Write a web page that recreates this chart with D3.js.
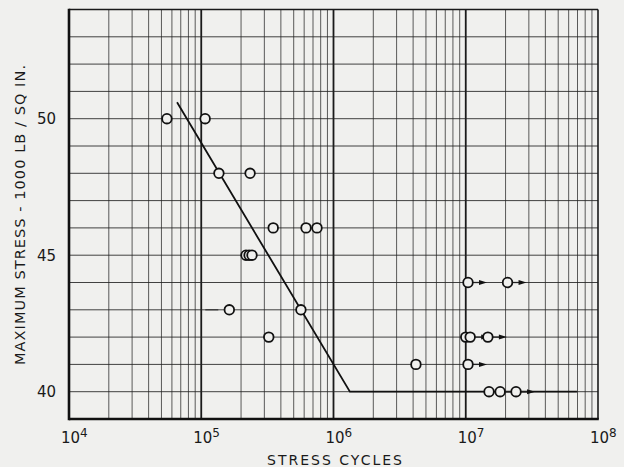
<!DOCTYPE html>
<html>
<head>
<meta charset="utf-8">
<script src="https://cdn.jsdelivr.net/npm/d3@7"></script>
<style>
  html, body { margin: 0; padding: 0; background: #f0f0ee; }
  text { font-family: "DejaVu Sans", sans-serif; fill: #1a1a1a; }
</style>
</head>
<body>
<svg id="chart"></svg>
<script>
var width = 624,
    height = 467;
var margin = {top: 9.5, right: 26, bottom: 48, left: 69};

// test points: cycles, stress, marker ("right" = runout arrow, "left" = lead dash)
var cycles = [5.5e4, 1.07e5, 1.36e5, 2.34e5, 2.18e5, 2.3e5, 2.42e5, 3.5e5, 6.2e5, 7.5e5,
              1.63e5, 5.67e5, 3.24e5, 4.2e6, 1.04e7, 1.04e7, 2.07e7, 1.0e7, 1.08e7, 1.47e7,
              1.5e7, 1.82e7, 2.4e7];
var stress = [50, 50, 48, 48, 45, 45, 45, 46, 46, 46,
              43, 43, 42, 41, 41, 44, 44, 42, 42, 42,
              40, 40, 40];
var marker = ["", "", "", "", "", "", "", "", "", "",
              "left", "", "", "", "right", "right", "right", "", "right", "right",
              "", "right", "right"];

// fitted S-N curve
var fitCycles = [6.56e4, 1.33e6, 6.93e7];
var fitStress = [50.6, 40, 40];

var xTicks = [4, 5, 6, 7, 8];
var yTicks = [40, 45, 50];

var x = d3.scaleLog()
    .domain([1e4, 1e8])
    .range([margin.left, width - margin.right]);
var y = d3.scaleLinear()
    .domain([39, 54])
    .range([height - margin.bottom, margin.top]);

var svg = d3.select('#chart')
    .attr('width', width)
    .attr('height', height);

// vertical log grid
var vGrid = [];
for (var e = 4; e < 8; e++) {
  for (var m = 2; m <= 9; m++) vGrid.push({v: m * Math.pow(10, e), major: false});
}
[1e5, 1e6, 1e7].forEach(function(v) { vGrid.push({v: v, major: true}); });

svg.append('g').selectAll('line')
    .data(vGrid)
    .enter().append('line')
    .attr('x1', d => x(d.v)).attr('x2', d => x(d.v))
    .attr('y1', y(54)).attr('y2', y(39))
    .attr('stroke', d => d.major ? '#1a1a1a' : '#333')
    .attr('stroke-opacity', d => d.major ? 1 : 0.8)
    .attr('stroke-width', d => d.major ? 1.8 : 1);

// horizontal grid
svg.append('g').selectAll('line')
    .data(d3.range(40, 54))
    .enter().append('line')
    .attr('x1', x(1e4)).attr('x2', x(1e8))
    .attr('y1', d => y(d)).attr('y2', d => y(d))
    .attr('stroke', '#222')
    .attr('stroke-opacity', 0.85)
    .attr('stroke-width', 1);

// frame
svg.append('line').attr('x1', x(1e4)).attr('x2', x(1e8)).attr('y1', y(54)).attr('y2', y(54))
    .attr('stroke', '#1a1a1a').attr('stroke-width', 1.6);
svg.append('line').attr('x1', x(1e8)).attr('x2', x(1e8)).attr('y1', y(54)).attr('y2', y(39))
    .attr('stroke', '#1a1a1a').attr('stroke-width', 1.6);
svg.append('line').attr('x1', x(1e4)).attr('x2', x(1e4)).attr('y1', y(54) - 0.8).attr('y2', y(39) + 1.2)
    .attr('stroke', '#111').attr('stroke-width', 2.6);
svg.append('line').attr('x1', x(1e4)).attr('x2', x(1e8) + 0.8).attr('y1', y(39)).attr('y2', y(39))
    .attr('stroke', '#111').attr('stroke-width', 2.6);

// fit line
var line = d3.line()
    .x((d, i) => x(fitCycles[i]))
    .y((d, i) => y(fitStress[i]));
svg.append('path')
    .datum(fitCycles)
    .attr('d', line)
    .attr('fill', 'none')
    .attr('stroke', '#111')
    .attr('stroke-width', 1.8);

var pts = cycles.map((c, i) => ({c: c, s: stress[i], m: marker[i]}));

// runout arrows
var arrows = svg.append('g').selectAll('g')
    .data(pts.filter(d => d.m === 'right'))
    .enter().append('g');
arrows.append('line')
    .attr('x1', d => x(d.c) + 5).attr('x2', d => x(d.c) + 13)
    .attr('y1', d => y(d.s)).attr('y2', d => y(d.s))
    .attr('stroke', '#222').attr('stroke-width', 1.3);
arrows.append('path')
    .attr('d', d => 'M' + (x(d.c) + 11) + ',' + (y(d.s) - 2.5) + 'L' + (x(d.c) + 19) + ',' + y(d.s) +
                    'L' + (x(d.c) + 11) + ',' + (y(d.s) + 2.5) + 'Z')
    .attr('fill', '#111');

// lead dash
svg.append('g').selectAll('line')
    .data(pts.filter(d => d.m === 'left'))
    .enter().append('line')
    .attr('x1', d => x(d.c) - 24).attr('x2', d => x(d.c) - 11)
    .attr('y1', d => y(d.s)).attr('y2', d => y(d.s))
    .attr('stroke', '#333').attr('stroke-width', 1.2);

// points
svg.append('g').selectAll('circle')
    .data(pts)
    .enter().append('circle')
    .attr('cx', d => x(d.c))
    .attr('cy', d => y(d.s))
    .attr('r', 4.8)
    .attr('fill', '#f0f0ee')
    .attr('stroke', '#111')
    .attr('stroke-width', 1.8);

// y tick labels
svg.append('g').selectAll('text')
    .data(yTicks)
    .enter().append('text')
    .attr('x', 56)
    .attr('y', d => y(d) + 5.5)
    .attr('text-anchor', 'end')
    .style('font-size', '15px')
    .text(d => d);

// x tick labels
var xl = svg.append('g').selectAll('text')
    .data(xTicks)
    .enter().append('text')
    .attr('x', d => x(Math.pow(10, d)) - 8)
    .attr('y', 443)
    .style('font-size', '15px');
xl.append('tspan').text('10');
xl.append('tspan').attr('dy', -6).style('font-size', '12px').text(d => d);

// axis titles
svg.append('text')
    .attr('x', 267)
    .attr('y', 465)
    .attr('textLength', 135)
    .attr('lengthAdjust', 'spacing')
    .style('font-size', '14px')
    .text('STRESS CYCLES');

svg.append('text')
    .attr('transform', 'translate(25,365) rotate(-90)')
    .attr('textLength', 300)
    .attr('lengthAdjust', 'spacing')
    .style('font-size', '14.5px')
    .text('MAXIMUM STRESS - 1000 LB / SQ IN.');
</script>
</body>
</html>
